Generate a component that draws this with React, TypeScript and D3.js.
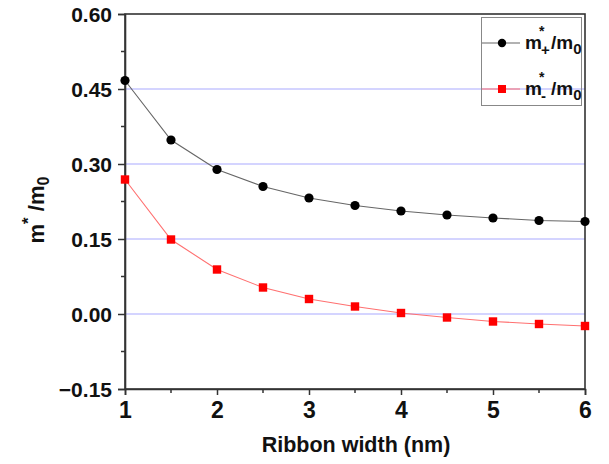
import * as d3 from 'd3';
import React, { useEffect, useRef } from 'react';

// ribbon width (nm)
const widths = [1, 1.5, 2, 2.5, 3, 3.5, 4, 4.5, 5, 5.5, 6];
// effective masses
const mPlus = [0.467, 0.348, 0.289, 0.255, 0.232, 0.217, 0.206, 0.198, 0.192, 0.187, 0.185];
const mMinus = [0.269, 0.149, 0.089, 0.053, 0.030, 0.015, 0.002, -0.007, -0.015, -0.020, -0.024];
const yTicks = [-0.15, 0, 0.15, 0.3, 0.45, 0.6];
const xTicks = [1, 2, 3, 4, 5, 6];
const gridValues = [0, 0.15, 0.3, 0.45];

const W = 609;
const H = 464;
const margin = { top: 14, right: 24, bottom: 75, left: 125 };

function App() {
    const ref = useRef<SVGSVGElement>(null);

    useEffect(() => {
        const svg = d3.select(ref.current);
        svg.selectAll('*').remove();

        const x = d3.scaleLinear().domain([1, 6]).range([margin.left, W - margin.right]);
        const y = d3.scaleLinear().domain([-0.15, 0.6]).range([H - margin.bottom, margin.top]);
        const font = 'Liberation Sans, Arial, sans-serif';

        // grid lines
        svg.append('g')
            .selectAll('line')
            .data(gridValues)
            .enter()
            .append('line')
            .attr('x1', x(1)).attr('x2', x(6))
            .attr('y1', d => y(d)).attr('y2', d => y(d))
            .attr('stroke', '#aaaaff')
            .attr('stroke-width', 1.2);

        // frame
        svg.append('rect')
            .attr('x', x(1)).attr('y', y(0.6))
            .attr('width', x(6) - x(1)).attr('height', y(-0.15) - y(0.6))
            .attr('fill', 'none')
            .attr('stroke', '#333')
            .attr('stroke-width', 1.6);

        // y axis
        const yAxis = d3.axisLeft(y).tickValues(yTicks).tickSize(7).tickFormat(d3.format('.2f'));
        const gy = svg.append('g').attr('transform', `translate(${x(1)},0)`).call(yAxis);
        gy.select('.domain').attr('stroke', '#333').attr('stroke-width', 1.6);
        gy.selectAll('line').attr('stroke', '#333').attr('stroke-width', 1.5);
        gy.selectAll('text')
            .attr('font-family', font).attr('font-weight', 'bold').attr('font-size', 21)
            .attr('fill', '#111').attr('x', -13).attr('dy', '0.36em');

        const yMinor = d3.range(-0.075, 0.6, 0.15);
        svg.append('g').selectAll('line').data(yMinor).enter().append('line')
            .attr('x1', x(1) - 4).attr('x2', x(1))
            .attr('y1', d => y(d)).attr('y2', d => y(d))
            .attr('stroke', '#333').attr('stroke-width', 1.5);

        // x axis
        const xAxis = d3.axisBottom(x).tickValues(xTicks).tickSize(6).tickFormat(d3.format('d'));
        const gx = svg.append('g').attr('transform', `translate(0,${y(-0.15)})`).call(xAxis);
        gx.select('.domain').attr('stroke', '#333').attr('stroke-width', 1.6);
        gx.selectAll('line').attr('stroke', '#333').attr('stroke-width', 1.5);
        gx.selectAll('text')
            .attr('font-family', font).attr('font-weight', 'bold').attr('font-size', 23)
            .attr('fill', '#111').attr('y', 28.5).attr('dy', 0);

        const xMinor = [1.5, 2.5, 3.5, 4.5, 5.5];
        svg.append('g').selectAll('line').data(xMinor).enter().append('line')
            .attr('x1', d => x(d)).attr('x2', d => x(d))
            .attr('y1', y(-0.15)).attr('y2', y(-0.15) + 4)
            .attr('stroke', '#333').attr('stroke-width', 1.5);

        // axis titles
        svg.append('text')
            .attr('x', 356).attr('y', 452)
            .attr('text-anchor', 'middle')
            .attr('font-family', font).attr('font-weight', 'bold').attr('font-size', 21.5)
            .attr('fill', '#111')
            .text('Ribbon width (nm)');

        const yt = svg.append('text')
            .attr('transform', `translate(44,210) rotate(-90)`)
            .attr('text-anchor', 'middle')
            .attr('font-family', font).attr('font-weight', 'bold').attr('font-size', 22)
            .attr('fill', '#111');
        yt.append('tspan').text('m');
        yt.append('tspan').attr('dy', -10).attr('font-size', 17).text('*');
        yt.append('tspan').attr('dy', 10).text(' /m');
        yt.append('tspan').attr('dy', 5).attr('font-size', 16).text('0');

        const line = d3.line<number>().x((d, i) => x(widths[i])).y(d => y(d));

        // m+ series
        svg.append('path').datum(mPlus)
            .attr('d', line).attr('fill', 'none')
            .attr('stroke', '#666').attr('stroke-width', 1.1);
        svg.append('g').selectAll('circle').data(mPlus).enter().append('circle')
            .attr('cx', (d, i) => x(widths[i])).attr('cy', d => y(d))
            .attr('r', 4.6).attr('fill', '#000');

        // m- series
        svg.append('path').datum(mMinus)
            .attr('d', line).attr('fill', 'none')
            .attr('stroke', '#ff7070').attr('stroke-width', 1.1);
        svg.append('g').selectAll('rect').data(mMinus).enter().append('rect')
            .attr('x', (d, i) => x(widths[i]) - 4.2).attr('y', d => y(d) - 4.2)
            .attr('width', 8.4).attr('height', 8.4).attr('fill', '#ff0000');

        // legend
        const lg = svg.append('g');
        lg.append('rect')
            .attr('x', 481.5).attr('y', 17.5).attr('width', 100).attr('height', 88)
            .attr('fill', 'none').attr('stroke', '#888').attr('stroke-width', 1);

        const entries = [
            { sub: '+', ly: 43, color: '#666', marker: 'circle' },
            { sub: '-', ly: 89, color: '#ff7070', marker: 'square' },
        ];
        entries.forEach(e => {
            lg.append('line')
                .attr('x1', 482).attr('x2', 520).attr('y1', e.ly).attr('y2', e.ly)
                .attr('stroke', e.color).attr('stroke-width', 1.1);
            if (e.marker === 'circle') {
                lg.append('circle').attr('cx', 502).attr('cy', e.ly).attr('r', 4.2).attr('fill', '#000');
            } else {
                lg.append('rect').attr('x', 498).attr('y', e.ly - 4).attr('width', 8).attr('height', 8).attr('fill', '#ff0000');
            }
            const base = e.ly + 6;
            const t = lg.append('text')
                .attr('x', 525).attr('y', base)
                .attr('font-family', font).attr('font-weight', 'bold').attr('font-size', 19)
                .attr('fill', '#111');
            t.append('tspan').text('m');
            t.append('tspan').attr('x', 539).attr('dy', -13).attr('font-size', 14).text('*');
            t.append('tspan').attr('x', 541).attr('dy', 19).attr('font-size', 15).text(e.sub);
            t.append('tspan').attr('x', 551).attr('dy', -6).text('/m');
            t.append('tspan').attr('dy', 5).attr('font-size', 15).text('0');
        });
    }, []);

    return (
        <svg ref={ref} width={W} height={H} style={{ position: 'absolute', left: 0, top: 0, background: '#fff' }}></svg>
    );
}

export default App;
